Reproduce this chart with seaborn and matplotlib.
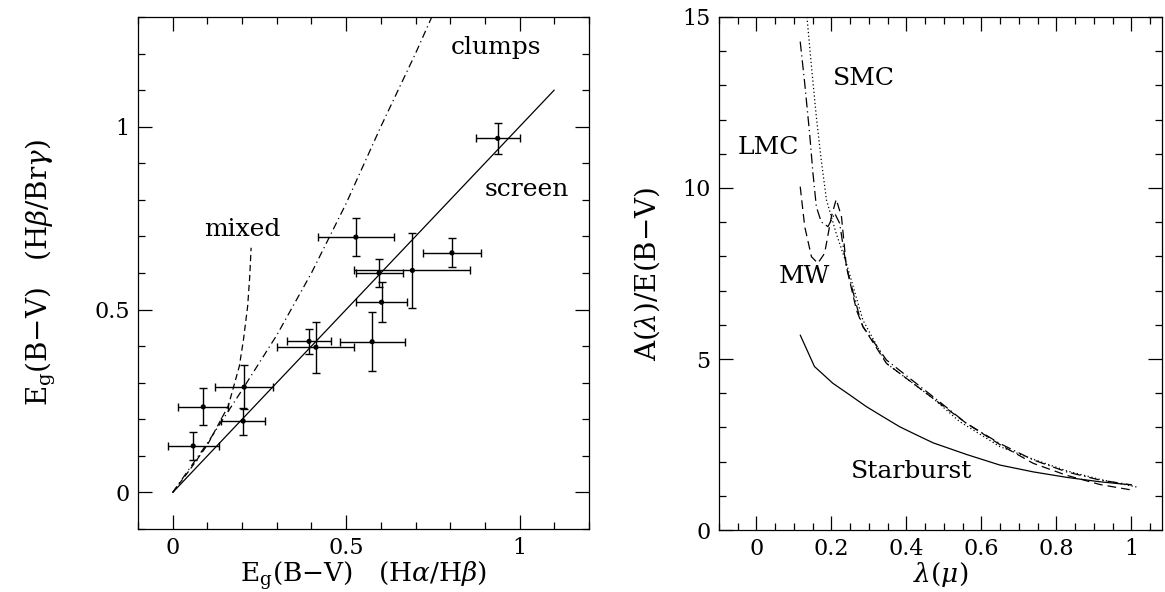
import matplotlib
matplotlib.use("Agg")
import numpy as np
import pandas as pd
import seaborn as sns
from matplotlib import pyplot as plt
from matplotlib.ticker import MultipleLocator

# ---- left panel: colour excess from two line ratios ----
eg_ha_hb = [0.059, 0.088, 0.206, 0.203, 0.393, 0.413, 0.575, 0.602, 0.595, 0.691, 0.805, 0.937, 0.528]
eg_ha_hb_err = [0.073, 0.072, 0.083, 0.064, 0.064, 0.111, 0.094, 0.074, 0.068, 0.167, 0.084, 0.064, 0.109]
eg_hb_brg = [0.127, 0.234, 0.288, 0.195, 0.413, 0.397, 0.412, 0.520, 0.600, 0.607, 0.655, 0.968, 0.698]
eg_hb_brg_err = [0.037, 0.051, 0.060, 0.037, 0.034, 0.070, 0.081, 0.054, 0.037, 0.102, 0.040, 0.042, 0.052]

screen_x = [0.0, 1.1]
screen_y = [0.0, 1.1]
clumps_x = [0.0, 0.1, 0.2, 0.3, 0.4, 0.5, 0.6, 0.7, 0.747]
clumps_y = [0.0, 0.135, 0.28, 0.43, 0.60, 0.79, 1.0, 1.2, 1.3]
mixed_x = [0.0, 0.05, 0.10, 0.16, 0.192, 0.204, 0.216, 0.222, 0.226]
mixed_y = [0.0, 0.063, 0.13, 0.236, 0.345, 0.418, 0.509, 0.59, 0.669]

# ---- right panel: extinction curves ----
smc_lam = [0.135, 0.147, 0.16, 0.173, 0.187, 0.213, 0.24, 0.284, 0.347, 0.471, 0.542, 0.649, 0.72, 0.827, 0.916, 1.017]
smc_a = [15.0, 13.55, 12.08, 10.82, 9.65, 8.67, 7.8, 6.14, 4.87, 3.85, 3.17, 2.44, 2.14, 1.73, 1.48, 1.25]
lmc_lam = [0.117, 0.129, 0.142, 0.151, 0.16, 0.173, 0.191, 0.209, 0.222, 0.24, 0.275, 0.284, 0.347, 0.471, 0.56, 0.649, 0.738, 0.827, 0.916, 1.0]
lmc_a = [14.28, 13.06, 11.6, 10.43, 9.45, 9.01, 8.87, 9.26, 8.97, 7.7, 6.24, 5.95, 4.97, 3.90, 3.12, 2.53, 2.05, 1.70, 1.46, 1.32]
mw_lam = [0.117, 0.129, 0.147, 0.164, 0.182, 0.2, 0.213, 0.227, 0.24, 0.267, 0.284, 0.347, 0.471, 0.56, 0.649, 0.738, 0.827, 0.916, 1.0]
mw_a = [10.04, 8.87, 7.99, 7.8, 8.09, 9.16, 9.67, 9.16, 7.7, 6.43, 5.95, 4.87, 3.85, 3.12, 2.5, 1.95, 1.6, 1.33, 1.17]
sb_lam = [0.117, 0.155, 0.204, 0.249, 0.293, 0.338, 0.382, 0.427, 0.471, 0.56, 0.649, 0.738, 0.827, 0.916, 1.0]
sb_a = [5.70, 4.78, 4.29, 3.95, 3.61, 3.31, 3.02, 2.78, 2.55, 2.21, 1.90, 1.70, 1.54, 1.41, 1.32]

sns.set_theme(style="ticks")
plt.rcParams['font.family'] = ['DejaVu Serif']
plt.rcParams['mathtext.fontset'] = 'dejavuserif'
plt.rcParams['axes.linewidth'] = 0.9
plt.rcParams['text.color'] = 'black'
plt.rcParams['axes.labelcolor'] = 'black'

fig = plt.figure(figsize=(11.65, 5.92), dpi=100)
ax1 = fig.add_axes([0.1185, 0.1064, 0.387, 0.865])
ax2 = fig.add_axes([0.617, 0.1047, 0.380, 0.8666])

lw = 0.9
# left
sns.lineplot(x=screen_x, y=screen_y, ax=ax1, color='black', lw=lw, sort=False, estimator=None)
sns.lineplot(x=clumps_x, y=clumps_y, ax=ax1, color='black', lw=lw, sort=False, estimator=None,
             linestyle=(0, (6, 3, 1, 3)))
sns.lineplot(x=mixed_x, y=mixed_y, ax=ax1, color='black', lw=lw, sort=False, estimator=None,
             linestyle=(0, (5, 3)))
ax1.errorbar(eg_ha_hb, eg_hb_brg, xerr=eg_ha_hb_err, yerr=eg_hb_brg_err, fmt='none',
             ecolor='black', elinewidth=1.0, capsize=3, capthick=1.0)
sns.scatterplot(x=eg_ha_hb, y=eg_hb_brg, ax=ax1, color='black', s=14, edgecolor='none', zorder=5)

ax1.set_xlim(-0.1, 1.2)
ax1.set_ylim(-0.1, 1.3)
ax1.xaxis.set_minor_locator(MultipleLocator(0.1))
ax1.yaxis.set_minor_locator(MultipleLocator(0.1))
ax1.set_xticks([0, 0.5, 1])
ax1.set_xticklabels(['0', '0.5', '1'])
ax1.set_yticks([0, 0.5, 1])
ax1.set_yticklabels(['0', '0.5', '1'])
ax1.set_xlabel(r'E$_{\rm g}$(B$-$V)   (H$\alpha$/H$\beta$)', fontsize=19, labelpad=0)
ax1.set_ylabel(r'E$_{\rm g}$(B$-$V)   (H$\beta$/Br$\gamma$)', fontsize=20)
ax1.yaxis.set_label_coords(-0.178, 0.5)

ax1.text(0.933, 1.216, 'clumps', fontsize=18, ha='center', va='center')
ax1.text(1.02, 0.828, 'screen', fontsize=18, ha='center', va='center')
ax1.text(0.20, 0.719, 'mixed', fontsize=18, ha='center', va='center')

# right
sns.lineplot(x=smc_lam, y=smc_a, ax=ax2, color='black', lw=lw, sort=False, estimator=None,
             linestyle=(0, (1, 2)))
sns.lineplot(x=lmc_lam, y=lmc_a, ax=ax2, color='black', lw=lw, sort=False, estimator=None,
             linestyle=(0, (8, 3, 1, 3)))
sns.lineplot(x=mw_lam, y=mw_a, ax=ax2, color='black', lw=lw, sort=False, estimator=None,
             linestyle=(0, (7, 4)))
sns.lineplot(x=sb_lam, y=sb_a, ax=ax2, color='black', lw=lw, sort=False, estimator=None)

ax2.set_xlim(-0.1, 1.08)
ax2.set_ylim(0, 15)
ax2.xaxis.set_minor_locator(MultipleLocator(0.05))
ax2.yaxis.set_major_locator(MultipleLocator(5))
ax2.yaxis.set_minor_locator(MultipleLocator(1))
ax2.set_xticks([0, 0.2, 0.4, 0.6, 0.8, 1.0])
ax2.set_xticklabels(['0', '0.2', '0.4', '0.6', '0.8', '1'])
ax2.set_xlabel(r'$\lambda$($\mu$)', fontsize=19, labelpad=0)
ax2.set_ylabel(r'A($\lambda$)/E(B$-$V)', fontsize=20)
ax2.yaxis.set_label_coords(-0.128, 0.5)

ax2.text(0.286, 13.19, 'SMC', fontsize=18, ha='center', va='center')
ax2.text(0.032, 11.17, 'LMC', fontsize=18, ha='center', va='center')
ax2.text(0.129, 7.4, 'MW', fontsize=18, ha='center', va='center')
ax2.text(0.415, 1.70, 'Starburst', fontsize=18, ha='center', va='center')

for ax in (ax1, ax2):
    ax.tick_params(which='both', direction='in', top=True, right=True, colors='black',
                   labelsize=16, width=0.9)
    ax.tick_params(which='major', length=10, pad=6)
    ax.tick_params(which='minor', length=5)
    for sp in ax.spines.values():
        sp.set_color('black')

fig.savefig('out.png', dpi=100)
